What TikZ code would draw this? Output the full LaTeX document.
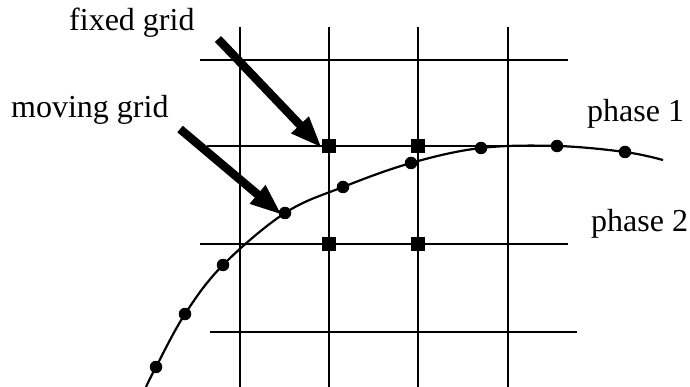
\documentclass[tikz,border=0pt]{standalone}
\usepackage{fontspec}
\setmainfont{Liberation Serif}
\usetikzlibrary{arrows.meta}
\tikzset{
  gridline/.style={line width=2.2pt},
  curveline/.style={line width=2.2pt},
  dotnode/.style={circle,fill=black,inner sep=0pt,minimum size=12.5pt},
  sqnode/.style={rectangle,fill=black,inner sep=0pt,minimum size=14.5pt},
  pointer/.style={line width=8.5pt,-{Triangle[length=32pt,width=22pt]}},
  lbl/.style={anchor=base west,inner sep=0pt,font=\fontsize{32}{38}\selectfont}
}
\begin{document}
\begin{tikzpicture}[x=1pt,y=-1pt]
\useasboundingbox (0,0) rectangle (690,387);
% grid
\foreach \x in {240,329,418,508}{\draw[gridline] (\x,27) -- (\x,387);}
\draw[gridline] (200,60) -- (568,60);
\draw[gridline] (207,146) -- (567,146);
\draw[gridline] (200,244) -- (568,244);
\draw[gridline] (210,332) -- (577,332);
% curve
\draw[curveline] plot[smooth,tension=0.6] coordinates {(146,387) (156,367) (185,314) (223,265) (285,213) (343,187) (411,163) (481,148) (557,146) (625,152) (663,160)};
% dots
\node[dotnode] (d1) at (156,367) {};
\node[dotnode] (d2) at (185,314) {};
\node[dotnode] (d3) at (223,265) {};
\node[dotnode] (d4) at (285,213) {};
\node[dotnode] (d5) at (343,187) {};
\node[dotnode] (d6) at (411,163) {};
\node[dotnode] (d7) at (481,148) {};
\node[dotnode] (d8) at (557,146) {};
\node[dotnode] (d9) at (625,152) {};
% squares
\node[sqnode] (s1) at (329,146) {};
\node[sqnode] (s2) at (418,146) {};
\node[sqnode] (s3) at (329,244) {};
\node[sqnode] (s4) at (418,244) {};
% labels
\node[lbl] (lfixed) at (69,31) {fixed grid};
\node[lbl] (lmoving) at (11,118) {moving grid};
\node[lbl] (lp1) at (587,122) {phase 1};
\node[lbl] (lp2) at (591,232) {phase 2};
% arrows
\coordinate (af) at (218,39);
\coordinate (am) at (180,129);
\draw[pointer] (af) -- ([shift={(-7pt,-2pt)}]s1.center);
\draw[pointer] (am) -- ([shift={(-3pt,-2pt)}]d4.center);
\end{tikzpicture}
\end{document}
